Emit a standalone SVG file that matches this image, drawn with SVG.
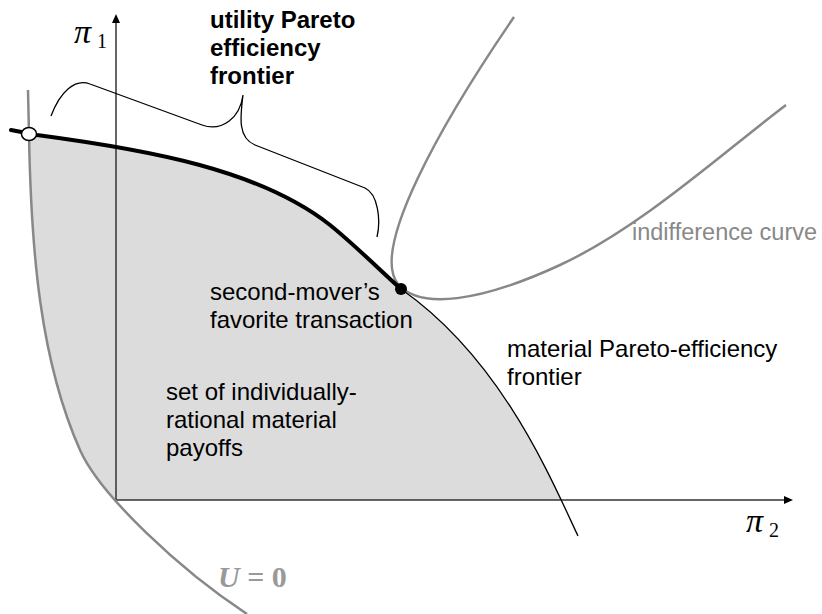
<svg xmlns="http://www.w3.org/2000/svg" width="822" height="614" viewBox="0 0 822 614">
<style>
.lbl{font-family:"Liberation Sans",Arial,sans-serif;font-size:24px;fill:#000}
.bold{font-weight:bold}
.gray{fill:#888;font-size:23.5px}
.sym{font-family:"Liberation Serif","Times New Roman",serif;fill:#000}
.axis{stroke:#333;stroke-width:1.5;fill:none}
.ucurve{stroke:#888;stroke-width:2.5;fill:none}
.thin{stroke:#000;stroke-width:1.3;fill:none}
.thick{stroke:#000;stroke-width:4;fill:none;stroke-linecap:round}
</style>
<defs>
<marker id="arr" markerUnits="userSpaceOnUse" markerWidth="10" markerHeight="10" viewBox="0 0 10 10" refX="1" refY="5" orient="auto">
<path d="M0,1 L9,5 L0,9 z" fill="#000"/>
</marker>
<clipPath id="above"><rect x="0" y="0" width="822" height="500"/></clipPath>
</defs>
<rect width="822" height="614" fill="#fff"/>
<g id="region">
<path clip-path="url(#above)" fill="#dcdcdc" d="M29,134 L37,135 C150,150 260,170 330,225 C355,245 385,275 401,289 C501,359 549.8,476 578,536 L247,614 C180,570 100,495 80,450 C40,360 31,250 29,134 Z"/>
</g>
<g id="axes">
<line class="axis" x1="116" y1="500" x2="116" y2="22" marker-end="url(#arr)"/>
<line class="axis" x1="116" y1="500" x2="785" y2="500" marker-end="url(#arr)"/>
</g>
<g id="connectors">
<path id="u-zero" class="ucurve" d="M28,90 L29,134 C31,250 40,360 80,450 C100,495 180,570 247,614"/>
<path id="indifference" class="ucurve" d="M514,17 C440,125 370,250 398,284 C420,310 480,302 560,265 C640,228 720,155 786,105"/>
<path id="material-frontier" class="thin" d="M401,289 C501,359 549.8,476 578,536"/>
<path id="utility-frontier" class="thick" d="M11,130 L37,135 C150,150 260,170 330,225 C355,245 385,275 401,289"/>
<path id="brace" class="thin" d="M51,116 C60,92 75,78 90,84 L202,125 C222,132 240,118 243,95 C240,118 238,138 255,145 L365,188 C378,194 381,220 377,237"/>
</g>
<g id="endpoint"><ellipse cx="29" cy="134" rx="7.5" ry="6.5" fill="#fff" stroke="#000" stroke-width="1.5"/></g>
<g id="favorite"><circle cx="401" cy="289" r="6" fill="#000"/></g>
<g id="axis-labels">
<text class="sym" x="74" y="43" font-size="34" font-style="italic">π</text>
<text class="sym" x="97" y="48" font-size="20">1</text>
<text class="sym" x="746" y="532" font-size="34" font-style="italic">π</text>
<text class="sym" x="769" y="537" font-size="20">2</text>
</g>
<g id="label-utility">
<text class="lbl bold" x="210" y="28">utility Pareto</text>
<text class="lbl bold" x="210" y="56">efficiency</text>
<text class="lbl bold" x="210" y="84">frontier</text>
</g>
<g id="label-favorite">
<text class="lbl" x="210" y="300">second-mover’s</text>
<text class="lbl" x="210" y="328">favorite transaction</text>
</g>
<g id="label-set">
<text class="lbl" x="166" y="400">set of individually-</text>
<text class="lbl" x="166" y="428">rational material</text>
<text class="lbl" x="166" y="456">payoffs</text>
</g>
<g id="label-material">
<text class="lbl" x="507" y="357">material Pareto-efficiency</text>
<text class="lbl" x="507" y="385">frontier</text>
</g>
<g id="label-indifference">
<text class="lbl gray" x="632" y="240">indifference curve</text>
</g>
<g id="label-u">
<text x="218" y="587" font-family="Liberation Serif,'Times New Roman',serif" font-size="30" font-weight="bold" fill="#999"><tspan font-style="italic">U</tspan> = 0</text>
</g>
</svg>
